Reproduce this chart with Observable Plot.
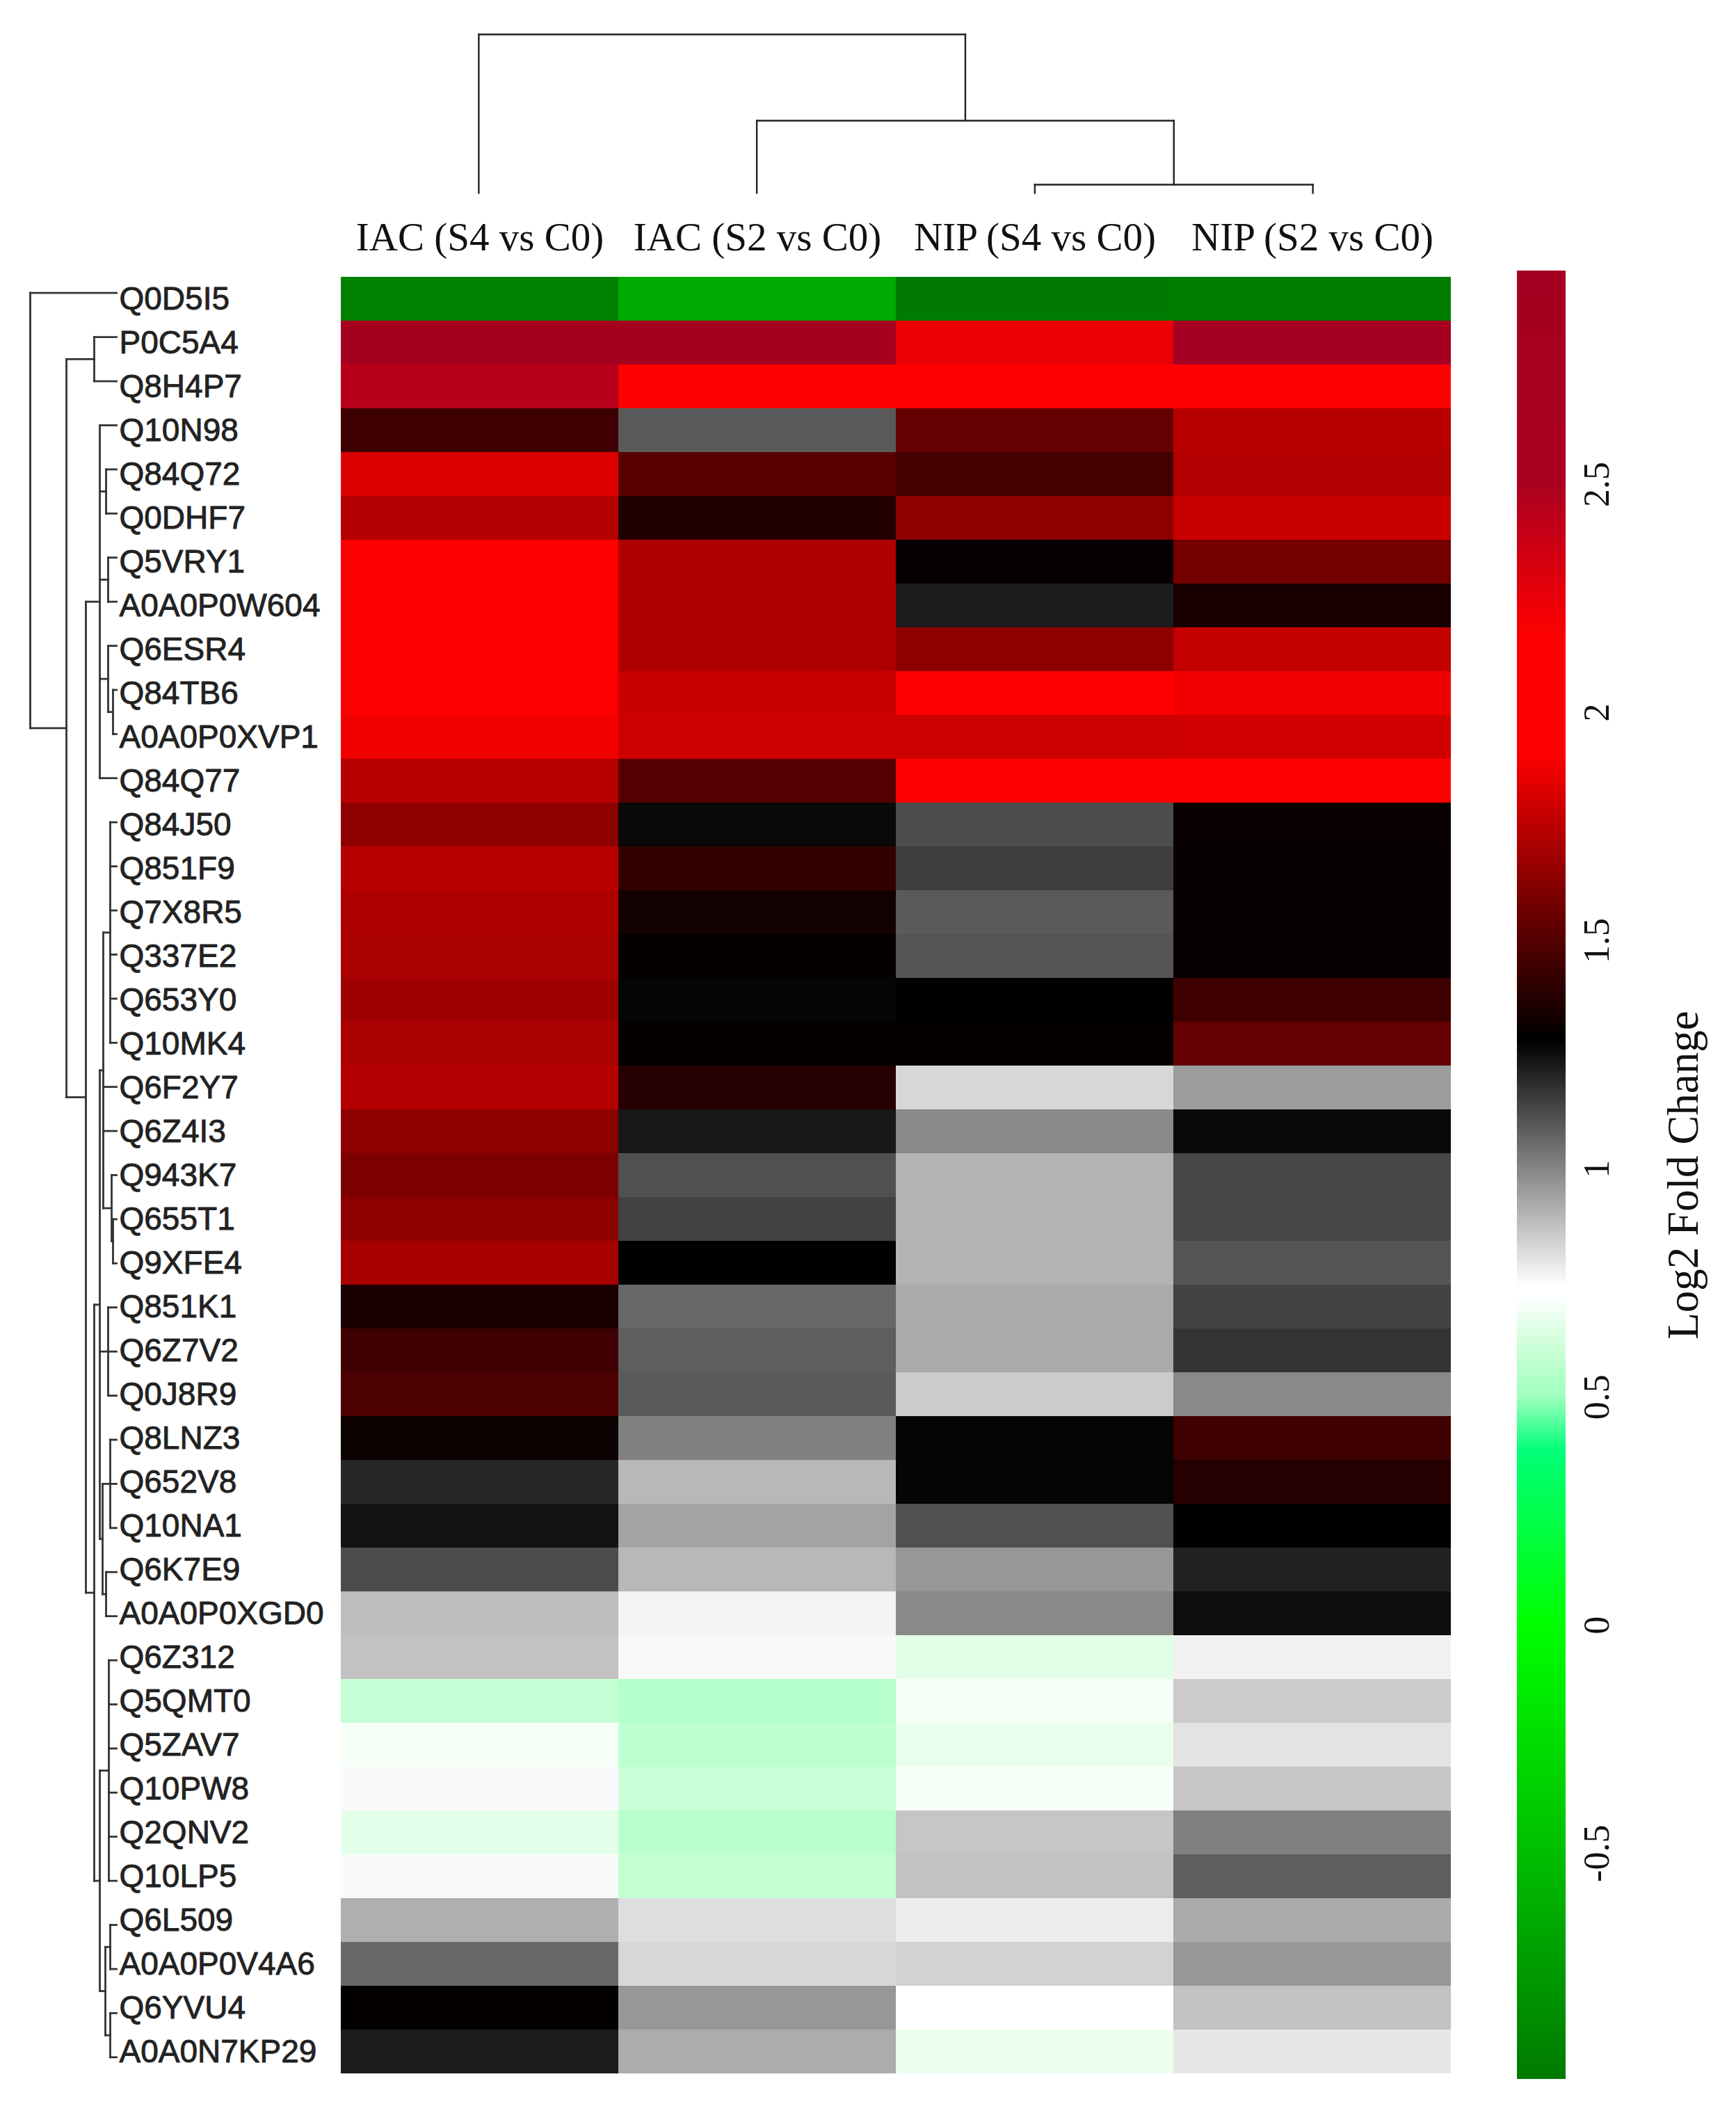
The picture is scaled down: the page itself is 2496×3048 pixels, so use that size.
<!DOCTYPE html>
<html>
<head>
<meta charset="utf-8">
<script src="https://cdn.jsdelivr.net/npm/d3@7"></script>
<script src="https://cdn.jsdelivr.net/npm/@observablehq/plot@0.6"></script>
<style>
  html, body { margin: 0; padding: 0; background: #ffffff; }
  #chart { position: relative; width: 2496px; height: 3048px; background: #ffffff; overflow: hidden; }
  #chart > svg { position: absolute; overflow: visible; background: transparent; }
</style>
</head>
<body>
<div id="chart"></div>
<script>
// ---------------- DATA ----------------
const proteins = ["Q0D5I5","P0C5A4","Q8H4P7","Q10N98","Q84Q72","Q0DHF7","Q5VRY1","A0A0P0W604","Q6ESR4","Q84TB6","A0A0P0XVP1","Q84Q77","Q84J50","Q851F9","Q7X8R5","Q337E2","Q653Y0","Q10MK4","Q6F2Y7","Q6Z4I3","Q943K7","Q655T1","Q9XFE4","Q851K1","Q6Z7V2","Q0J8R9","Q8LNZ3","Q652V8","Q10NA1","Q6K7E9","A0A0P0XGD0","Q6Z312","Q5QMT0","Q5ZAV7","Q10PW8","Q2QNV2","Q10LP5","Q6L509","A0A0P0V4A6","Q6YVU4","A0A0N7KP29"];

const columns = ["IAC (S4 vs C0)", "IAC (S2 vs C0)", "NIP (S4 vs C0)", "NIP (S2 vs C0)"];

const iacS4 = [-0.937, 2.90, 2.44, 1.44, 1.83, 1.73, 2.05, 2.05, 2.05, 2.05, 1.88, 1.74, 1.64, 1.74, 1.72, 1.71, 1.68, 1.71, 1.73, 1.64, 1.60, 1.64, 1.70, 1.35, 1.44, 1.48, 1.31, 1.20, 1.24, 1.12, 0.88, 0.87, 0.59, 0.70, 0.75, 0.66, 0.75, 0.91, 1.06, 1.29, 1.22];
const iacS2 = [-0.645, 2.85, 2.05, 1.09, 1.51, 1.37, 1.72, 1.72, 1.72, 1.78, 1.79, 1.50, 1.26, 1.41, 1.33, 1.29, 1.27, 1.29, 1.38, 1.23, 1.11, 1.14, 1.28, 1.06, 1.08, 1.09, 1.01, 0.89, 0.935, 0.89, 0.765, 0.753, 0.55, 0.57, 0.60, 0.56, 0.585, 0.81, 0.825, 0.96, 0.915];
const nipS4 = [-0.995, 2.24, 2.05, 1.54, 1.46, 1.64, 1.295, 1.22, 1.64, 2.00, 1.79, 2.05, 1.12, 1.15, 1.09, 1.10, 1.28, 1.29, 0.825, 0.99, 0.90, 0.90, 0.90, 0.92, 0.92, 0.85, 1.27, 1.27, 1.11, 0.96, 0.99, 0.655, 0.70, 0.67, 0.70, 0.86, 0.87, 0.78, 0.835, 0.73, 0.675];
const nipS2 = [-0.975, 2.968, 2.05, 1.74, 1.73, 1.78, 1.58, 1.345, 1.77, 1.875, 1.80, 2.05, 1.30, 1.295, 1.295, 1.295, 1.44, 1.54, 0.95, 1.26, 1.13, 1.13, 1.10, 1.14, 1.17, 0.99, 1.44, 1.38, 1.28, 1.21, 1.25, 0.77, 0.85, 0.80, 0.86, 1.01, 1.08, 0.92, 0.96, 0.87, 0.79];

// colour key
const colorStops = [-0.995, -0.5, 0, 0.38, 0.5, 0.62, 0.72, 0.74, 1.28, 1.54, 1.91, 2.16, 2.5, 2.968];
const colorRamp  = ["#007a00", "#00be00", "#00ff00", "#00ff78", "#a0ffbe", "#d2ffdc", "#ffffff", "#ffffff", "#000000", "#640000", "#ff0000", "#ff0000", "#aa0020", "#a50021"];
const colorTicks = [-0.5, 0, 0.5, 1, 1.5, 2, 2.5];
const legendTitle = "Log2 Fold Change";

// dendrograms (h = merge height)
const rowTree = {h: 124, c: [
  "Q0D5I5",
  {h: 72, c: [
    {h: 32, c: ["P0C5A4", "Q8H4P7"]},
    {h: 44, c: [
      {h: 24, c: [
        "Q10N98",
        {h: 15, c: ["Q84Q72", "Q0DHF7"]},
        {h: 12, c: ["Q5VRY1", "A0A0P0W604"]},
        {h: 12, c: ["Q6ESR4", {h: 5, c: ["Q84TB6", "A0A0P0XVP1"]}]},
        "Q84Q77"
      ]},
      {h: 32, c: [
        {h: 24, c: [
          {h: 19, c: [
            {h: 9, c: ["Q84J50", "Q851F9", "Q7X8R5", "Q337E2", "Q653Y0", "Q10MK4"]},
            "Q6F2Y7",
            "Q6Z4I3",
            {h: 7, c: ["Q943K7", {h: 5, c: ["Q655T1", "Q9XFE4"]}]}
          ]},
          {h: 12, c: ["Q851K1", "Q6Z7V2", "Q0J8R9"]},
          {h: 20, c: [
            {h: 9, c: ["Q8LNZ3", "Q652V8", "Q10NA1"]},
            {h: 15, c: ["Q6K7E9", "A0A0P0XGD0"]}
          ]}
        ]},
        {h: 24, c: [
          {h: 11, c: ["Q6Z312", "Q5QMT0", "Q5ZAV7", "Q10PW8", "Q2QNV2", "Q10LP5"]},
          {h: 16, c: [
            {h: 9, c: ["Q6L509", "A0A0P0V4A6"]},
            {h: 9, c: ["Q6YVU4", "A0A0N7KP29"]}
          ]}
        ]}
      ]}
    ]}
  ]}
]};
const colTree = {h: 228, c: [
  "IAC (S4 vs C0)",
  {h: 104, c: ["IAC (S2 vs C0)", {h: 12, c: ["NIP (S4 vs C0)", "NIP (S2 vs C0)"]}]}
]};

// ---------------- BUILD ----------------
const series = [iacS4, iacS2, nipS4, nipS2];
const cells = [];
proteins.forEach((p, i) => columns.forEach((c, j) => cells.push({row: p, col: c, value: series[j][i]})));

function dendroSegments(tree, leaves) {
  const segs = [];
  function walk(node) {
    if (typeof node === "string") return {p: leaves.indexOf(node) + 0.5, h: 0};
    const kids = node.c.map(walk);
    const p = (kids[0].p + kids[kids.length - 1].p) / 2;
    segs.push({h1: node.h, p1: kids[0].p, h2: node.h, p2: kids[kids.length - 1].p});
    for (const k of kids) segs.push({h1: k.h, p1: k.p, h2: node.h, p2: k.p});
    return {p, h: node.h};
  }
  walk(tree);
  return segs;
}

const colorScale = {type: "linear", domain: colorStops, range: colorRamp, interpolate: "rgb", clamp: true};

// layout (pixels)
const W = 2496, H = 3048;
const fx0 = 488, fx1 = 2087, fy0 = 389, fy1 = 2989;
const chart = document.getElementById("chart");

function place(svg, left, top) {
  svg.style.left = left + "px";
  svg.style.top = top + "px";
  svg.style.maxWidth = "none";
  chart.appendChild(svg);
}

// main heatmap
const main = Plot.plot({
  width: W, height: H,
  marginLeft: fx0, marginRight: W - fx1, marginTop: fy0, marginBottom: H - fy1,
  style: {background: "transparent", overflow: "visible"},
  x: {domain: columns, padding: 0, axis: null},
  y: {domain: proteins, padding: 0, axis: null},
  color: colorScale,
  marks: [
    Plot.cell(cells, {x: "col", y: "row", fill: "value", inset: 0, shapeRendering: "crispEdges"}),
    Plot.text(proteins, {y: d => d, text: d => d, frameAnchor: "left", textAnchor: "start", dx: 171 - fx0,
      fontSize: 46, fontFamily: "'Liberation Sans', Arial, sans-serif", fill: "#222", stroke: "#222", strokeWidth: 0.9}),
    Plot.text(columns, {x: d => d, text: d => d, frameAnchor: "top", lineAnchor: "middle", dy: -48,
      fontSize: 57, fontFamily: "'Liberation Serif', 'Times New Roman', serif", fill: "#111"})
  ]
});
place(main, 0, 0);

// row dendrogram
const rowSegs = dendroSegments(rowTree, proteins);
const rowDendro = Plot.plot({
  width: fx0, height: H,
  margin: 0,
  style: {background: "transparent", overflow: "visible"},
  x: {type: "linear", domain: [rowTree.h, 0], range: [43, 167], axis: null},
  y: {type: "linear", domain: [0, proteins.length], range: [fy0, fy1], axis: null},
  marks: [
    Plot.link(rowSegs, {x1: "h1", y1: "p1", x2: "h2", y2: "p2", stroke: "#333", strokeWidth: 2.8, strokeLinecap: "square"})
  ]
});
place(rowDendro, 0, 0);

// column dendrogram
const colSegs = dendroSegments(colTree, columns);
const colDendro = Plot.plot({
  width: W, height: fy0,
  margin: 0,
  style: {background: "transparent", overflow: "visible"},
  x: {type: "linear", domain: [0, columns.length], range: [fx0, fx1], axis: null},
  y: {type: "linear", domain: [0, colTree.h], range: [277, 49], axis: null},
  marks: [
    Plot.link(colSegs, {x1: "p1", y1: "h1", x2: "p2", y2: "h2", stroke: "#222", strokeWidth: 2.4, strokeLinecap: "square"})
  ]
});
place(colDendro, 0, 0);

// colour key
const lx = 2100;
const kmin = colorStops[0], kmax = colorStops[colorStops.length - 1];
const kstep = 0.004;
const ramp = d3.range(kmin, kmax, kstep);
const legend = Plot.plot({
  width: W - lx, height: H,
  margin: 0,
  style: {background: "transparent", overflow: "visible"},
  x: {type: "linear", domain: [0, 1], range: [2181 - lx, 2251 - lx], axis: null},
  y: {type: "linear", domain: [kmin, kmax], range: [fy1, fy0], axis: null},
  color: colorScale,
  marks: [
    Plot.rect(ramp, {x1: 0, x2: 1, y1: d => d, y2: d => Math.min(d + kstep * 1.6, kmax), fill: d => d, shapeRendering: "crispEdges"}),
    Plot.text(colorTicks, {x: 1, y: d => d, text: d => String(d), dx: 45, rotate: -90, textAnchor: "middle", lineAnchor: "middle",
      fontSize: 52, fontFamily: "'Liberation Serif', 'Times New Roman', serif", fill: "#111"}),
    Plot.text([legendTitle], {x: 1, y: (kmin + kmax) / 2, text: d => d, dx: 169, rotate: -90, textAnchor: "middle", lineAnchor: "middle",
      fontSize: 63, fontFamily: "'Liberation Serif', 'Times New Roman', serif", fill: "#111"})
  ]
});
place(legend, lx, 0);
</script>
</body>
</html>
